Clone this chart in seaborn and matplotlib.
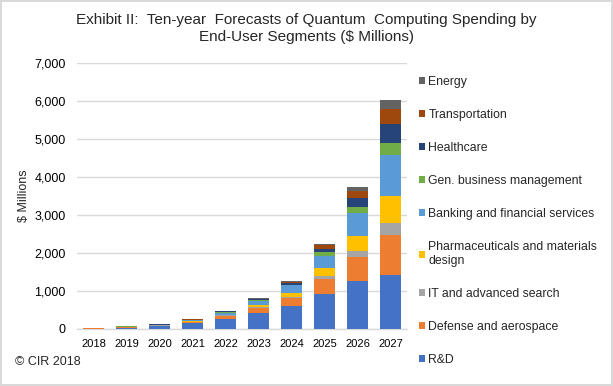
import matplotlib
matplotlib.use("Agg")
import matplotlib.pyplot as plt
from matplotlib.ticker import FuncFormatter
import seaborn as sns
import pandas as pd
import numpy as np

# Data ($ millions)
years = ["2018", "2019", "2020", "2021", "2022", "2023", "2024", "2025", "2026", "2027"]

rnd = [5, 30, 70, 150, 272, 430, 605, 921, 1263, 1412]
defense = [8, 12, 20, 35, 79, 132, 210, 386, 632, 1053]
it_search = [1, 3, 5, 8, 9, 26, 26, 88, 158, 316]
pharma = [2, 10, 7, 12, 18, 53, 105, 210, 403, 719]
banking = [2, 8, 10, 20, 44, 96, 200, 316, 597, 1071]
gen_business = [1, 4, 5, 8, 35, 35, 20, 105, 158, 316]
healthcare = [1, 4, 5, 8, 9, 18, 35, 79, 245, 508]
transportation = [12, 4, 5, 15, 5, 12, 35, 105, 176, 387]
energy = [2, 4, 5, 7, 5, 14, 26, 26, 113, 244]

segments = ["R&D", "Defense and aerospace", "IT and advanced search",
            "Pharmaceuticals and materials\ndesign", "Banking and financial services",
            "Gen. business management", "Healthcare", "Transportation", "Energy"]
series = [rnd, defense, it_search, pharma, banking, gen_business,
          healthcare, transportation, energy]
colors = ["#4472C4", "#ED7D31", "#A5A5A5", "#FFC000", "#5B9BD5",
          "#70AD47", "#264478", "#9E480E", "#636363"]

sns.set_theme(style="white")
plt.rcParams['font.family'] = ['Liberation Sans', 'DejaVu Sans']

df = pd.DataFrame(dict(zip(segments, series)), index=years)
cum = df.cumsum(axis=1)

fig = plt.figure(figsize=(6.13, 3.86), dpi=100)
fig.patch.set_edgecolor("#D9D9D9")
fig.patch.set_linewidth(1.5)
ax = fig.add_axes([0.1256, 0.1477, 0.5383, 0.6891])

# Draw cumulative totals from the top segment down, so each layer shows as a stack
for seg, col in zip(segments[::-1], colors[::-1]):
    sns.barplot(x=years, y=cum[seg].values, color=col, width=0.64,
                saturation=1, label=seg, ax=ax, zorder=3,
                linewidth=0, edgecolor="none")

ax.set_ylim(0, 7000)
ax.set_yticks(np.arange(0, 7001, 1000))
ax.yaxis.set_major_formatter(FuncFormatter(lambda v, p: f"{int(v):,}"))
ax.grid(axis="y", color="#D9D9D9", linewidth=1, zorder=0)
ax.set_axisbelow(True)
for s in ["top", "right", "left"]:
    ax.spines[s].set_visible(False)
ax.spines["bottom"].set_color("#D9D9D9")
ax.spines["bottom"].set_linewidth(1)
ax.tick_params(axis="y", length=0, labelsize=9, colors="#000000", pad=8)
ax.tick_params(axis="x", length=0, labelsize=8, colors="#000000", pad=7)
ax.set_xlabel("")
ax.set_ylabel("$ Millions", fontsize=9, labelpad=3)

fig.text(0.5, 0.926,
         "Exhibit II:  Ten-year  Forecasts of Quantum  Computing Spending by\nEnd-User Segments ($ Millions)",
         ha="center", va="center", fontsize=11, linespacing=1.3)
fig.text(15 / 613, 1 - 362 / 386, "© CIR 2018", fontsize=9, va="center", ha="left")

ax.legend(loc="upper left", bbox_to_anchor=(0.683, 1 - 76 / 386),
          bbox_transform=fig.transFigure, frameon=False, fontsize=8.8,
          labelspacing=1.72, handlelength=0.55, handleheight=0.55,
          handletextpad=0.25, borderaxespad=0, borderpad=0)

fig.savefig("out.png", dpi=100)
